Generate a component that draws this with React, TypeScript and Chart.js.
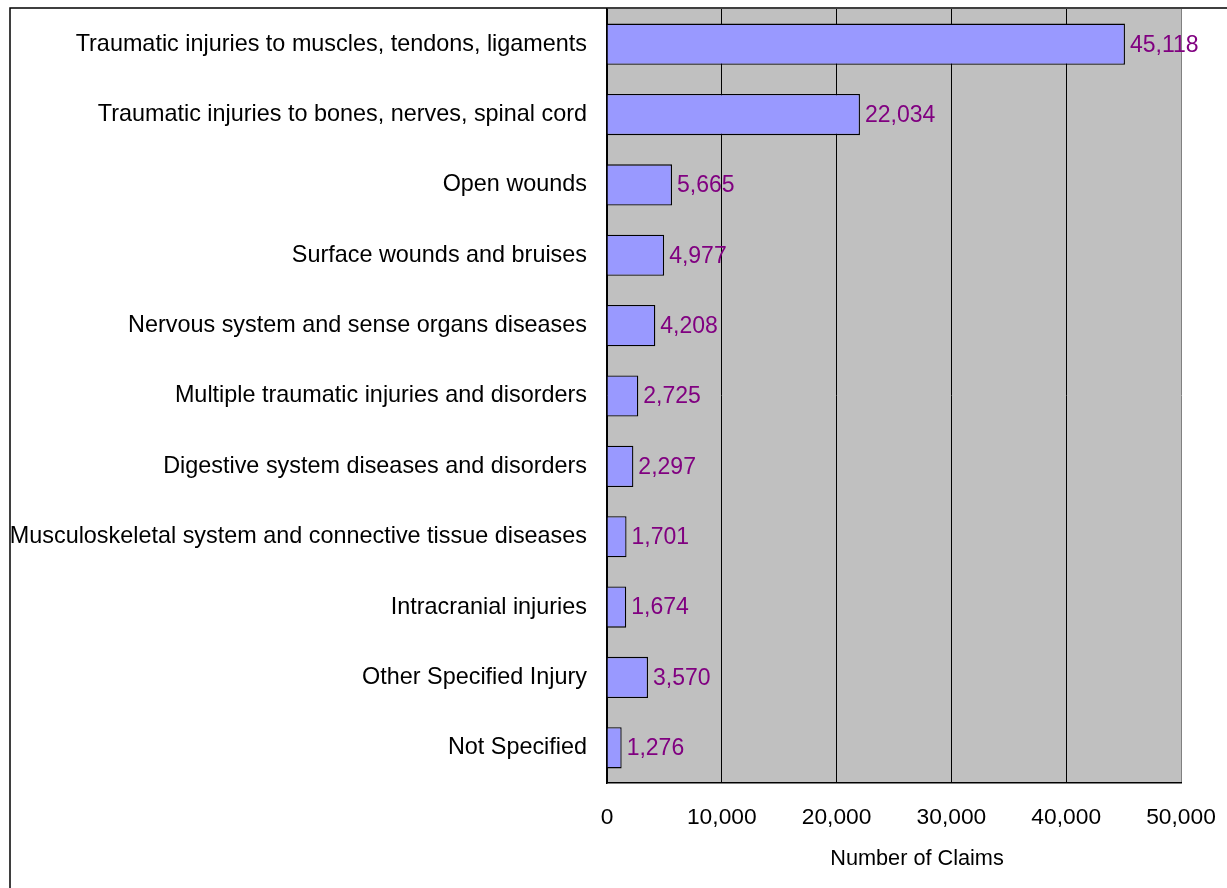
import React, { useEffect, useRef } from "react";
import { Chart, registerables } from "chart.js";

Chart.register(...registerables);

const categories = [
  "Traumatic injuries to muscles, tendons, ligaments",
  "Traumatic injuries to bones, nerves, spinal cord",
  "Open wounds",
  "Surface wounds and bruises",
  "Nervous system and sense organs diseases",
  "Multiple traumatic injuries and disorders",
  "Digestive system diseases and disorders",
  "Musculoskeletal system and connective tissue diseases",
  "Intracranial injuries",
  "Other Specified Injury",
  "Not Specified",
];

const claims = [45118, 22034, 5665, 4977, 4208, 2725, 2297, 1701, 1674, 3570, 1276];

const axisTitle = "Number of Claims";
const xMin = 0;
const xMax = 50000;
const xStep = 10000;

const FONT = "'Liberation Sans', Arial, sans-serif";

const fmt = (v: number) => v.toLocaleString("en-US");

export default function App() {
  const ref = useRef<HTMLCanvasElement | null>(null);

  useEffect(() => {
    if (!ref.current) return;

    const bgPlugin = {
      id: "bg",
      beforeDraw(chart: any) {
        const { ctx, chartArea, width, height } = chart;
        ctx.save();
        ctx.fillStyle = "#ffffff";
        ctx.fillRect(0, 0, width, height);
        ctx.fillStyle = "#C0C0C0";
        ctx.fillRect(chartArea.left, chartArea.top, chartArea.right - chartArea.left, chartArea.bottom - chartArea.top);
        ctx.restore();
      },
    };

    const labelPlugin = {
      id: "valueLabels",
      afterDatasetsDraw(chart: any) {
        const { ctx } = chart;
        const meta = chart.getDatasetMeta(0);
        ctx.save();
        ctx.font = `23px ${FONT}`;
        ctx.fillStyle = "#800080";
        ctx.textAlign = "left";
        ctx.textBaseline = "middle";
        meta.data.forEach((bar: any, i: number) => {
          ctx.fillText(fmt(claims[i]), bar.x + 5, bar.y + 1);
        });
        ctx.restore();
      },
    };

    const framePlugin = {
      id: "frame",
      afterDraw(chart: any) {
        const { ctx, chartArea, width, height } = chart;
        ctx.save();
        // axis title
        ctx.font = `21.7px ${FONT}`;
        ctx.fillStyle = "#000000";
        ctx.textAlign = "center";
        ctx.textBaseline = "middle";
        ctx.fillText(axisTitle, (chartArea.left + chartArea.right) / 2 + 23, chartArea.bottom + 76);
        // outer frame
        ctx.strokeStyle = "#000000";
        ctx.lineWidth = 1.5;
        ctx.beginPath();
        ctx.moveTo(width, 8);
        ctx.lineTo(10, 8);
        ctx.lineTo(10, height);
        ctx.stroke();
        ctx.restore();
      },
    };

    const chart = new Chart(ref.current, {
      type: "bar",
      data: {
        labels: categories,
        datasets: [
          {
            data: claims,
            backgroundColor: "#9999FF",
            borderColor: "#000000",
            borderWidth: 1.3,
            categoryPercentage: 1,
            barPercentage: 0.585,
          },
        ],
      },
      options: {
        indexAxis: "y",
        animation: false,
        responsive: false,
        devicePixelRatio: 1,
        layout: { padding: { top: 9, right: 46, left: 0, bottom: 0 } },
        plugins: {
          legend: { display: false },
          tooltip: { enabled: false },
          title: { display: false },
        },
        scales: {
          x: {
            type: "linear",
            min: xMin,
            max: xMax,
            ticks: {
              stepSize: xStep,
              padding: 21,
              color: "#000000",
              font: { family: FONT, size: 22.8 },
              callback: (v: any) => fmt(Number(v)),
            },
            grid: {
              drawTicks: false,
              lineWidth: 1,
              color: (ctx: any) => (ctx.tick && ctx.tick.value === xMax ? "#808080" : "#000000"),
            },
            border: { display: true, color: "#000000", width: 1.5 },
            afterFit: (scale: any) => {
              scale.height = 105;
              scale.paddingLeft = 0;
              scale.paddingRight = 0;
              scale.paddingTop = 0;
              scale.paddingBottom = 0;
            },
          },
          y: {
            type: "category",
            ticks: {
              padding: 20,
              color: "#000000",
              font: { family: FONT, size: 23.4 },
              autoSkip: false,
            },
            grid: { display: true, drawOnChartArea: false, drawTicks: false },
            border: { display: true, color: "#000000", width: 1.5 },
            afterFit: (scale: any) => {
              scale.width = 607;
              scale.paddingLeft = 0;
              scale.paddingRight = 0;
              scale.paddingTop = 0;
              scale.paddingBottom = 0;
            },
          },
        },
      },
      plugins: [bgPlugin, labelPlugin, framePlugin],
    });

    return () => chart.destroy();
  }, []);

  return (
    <div style={{ position: "fixed", left: 0, top: 0, width: 1227, height: 888, background: "#fff" }}>
      <canvas ref={ref} width={1227} height={888} style={{ display: "block" }} />
    </div>
  );
}
